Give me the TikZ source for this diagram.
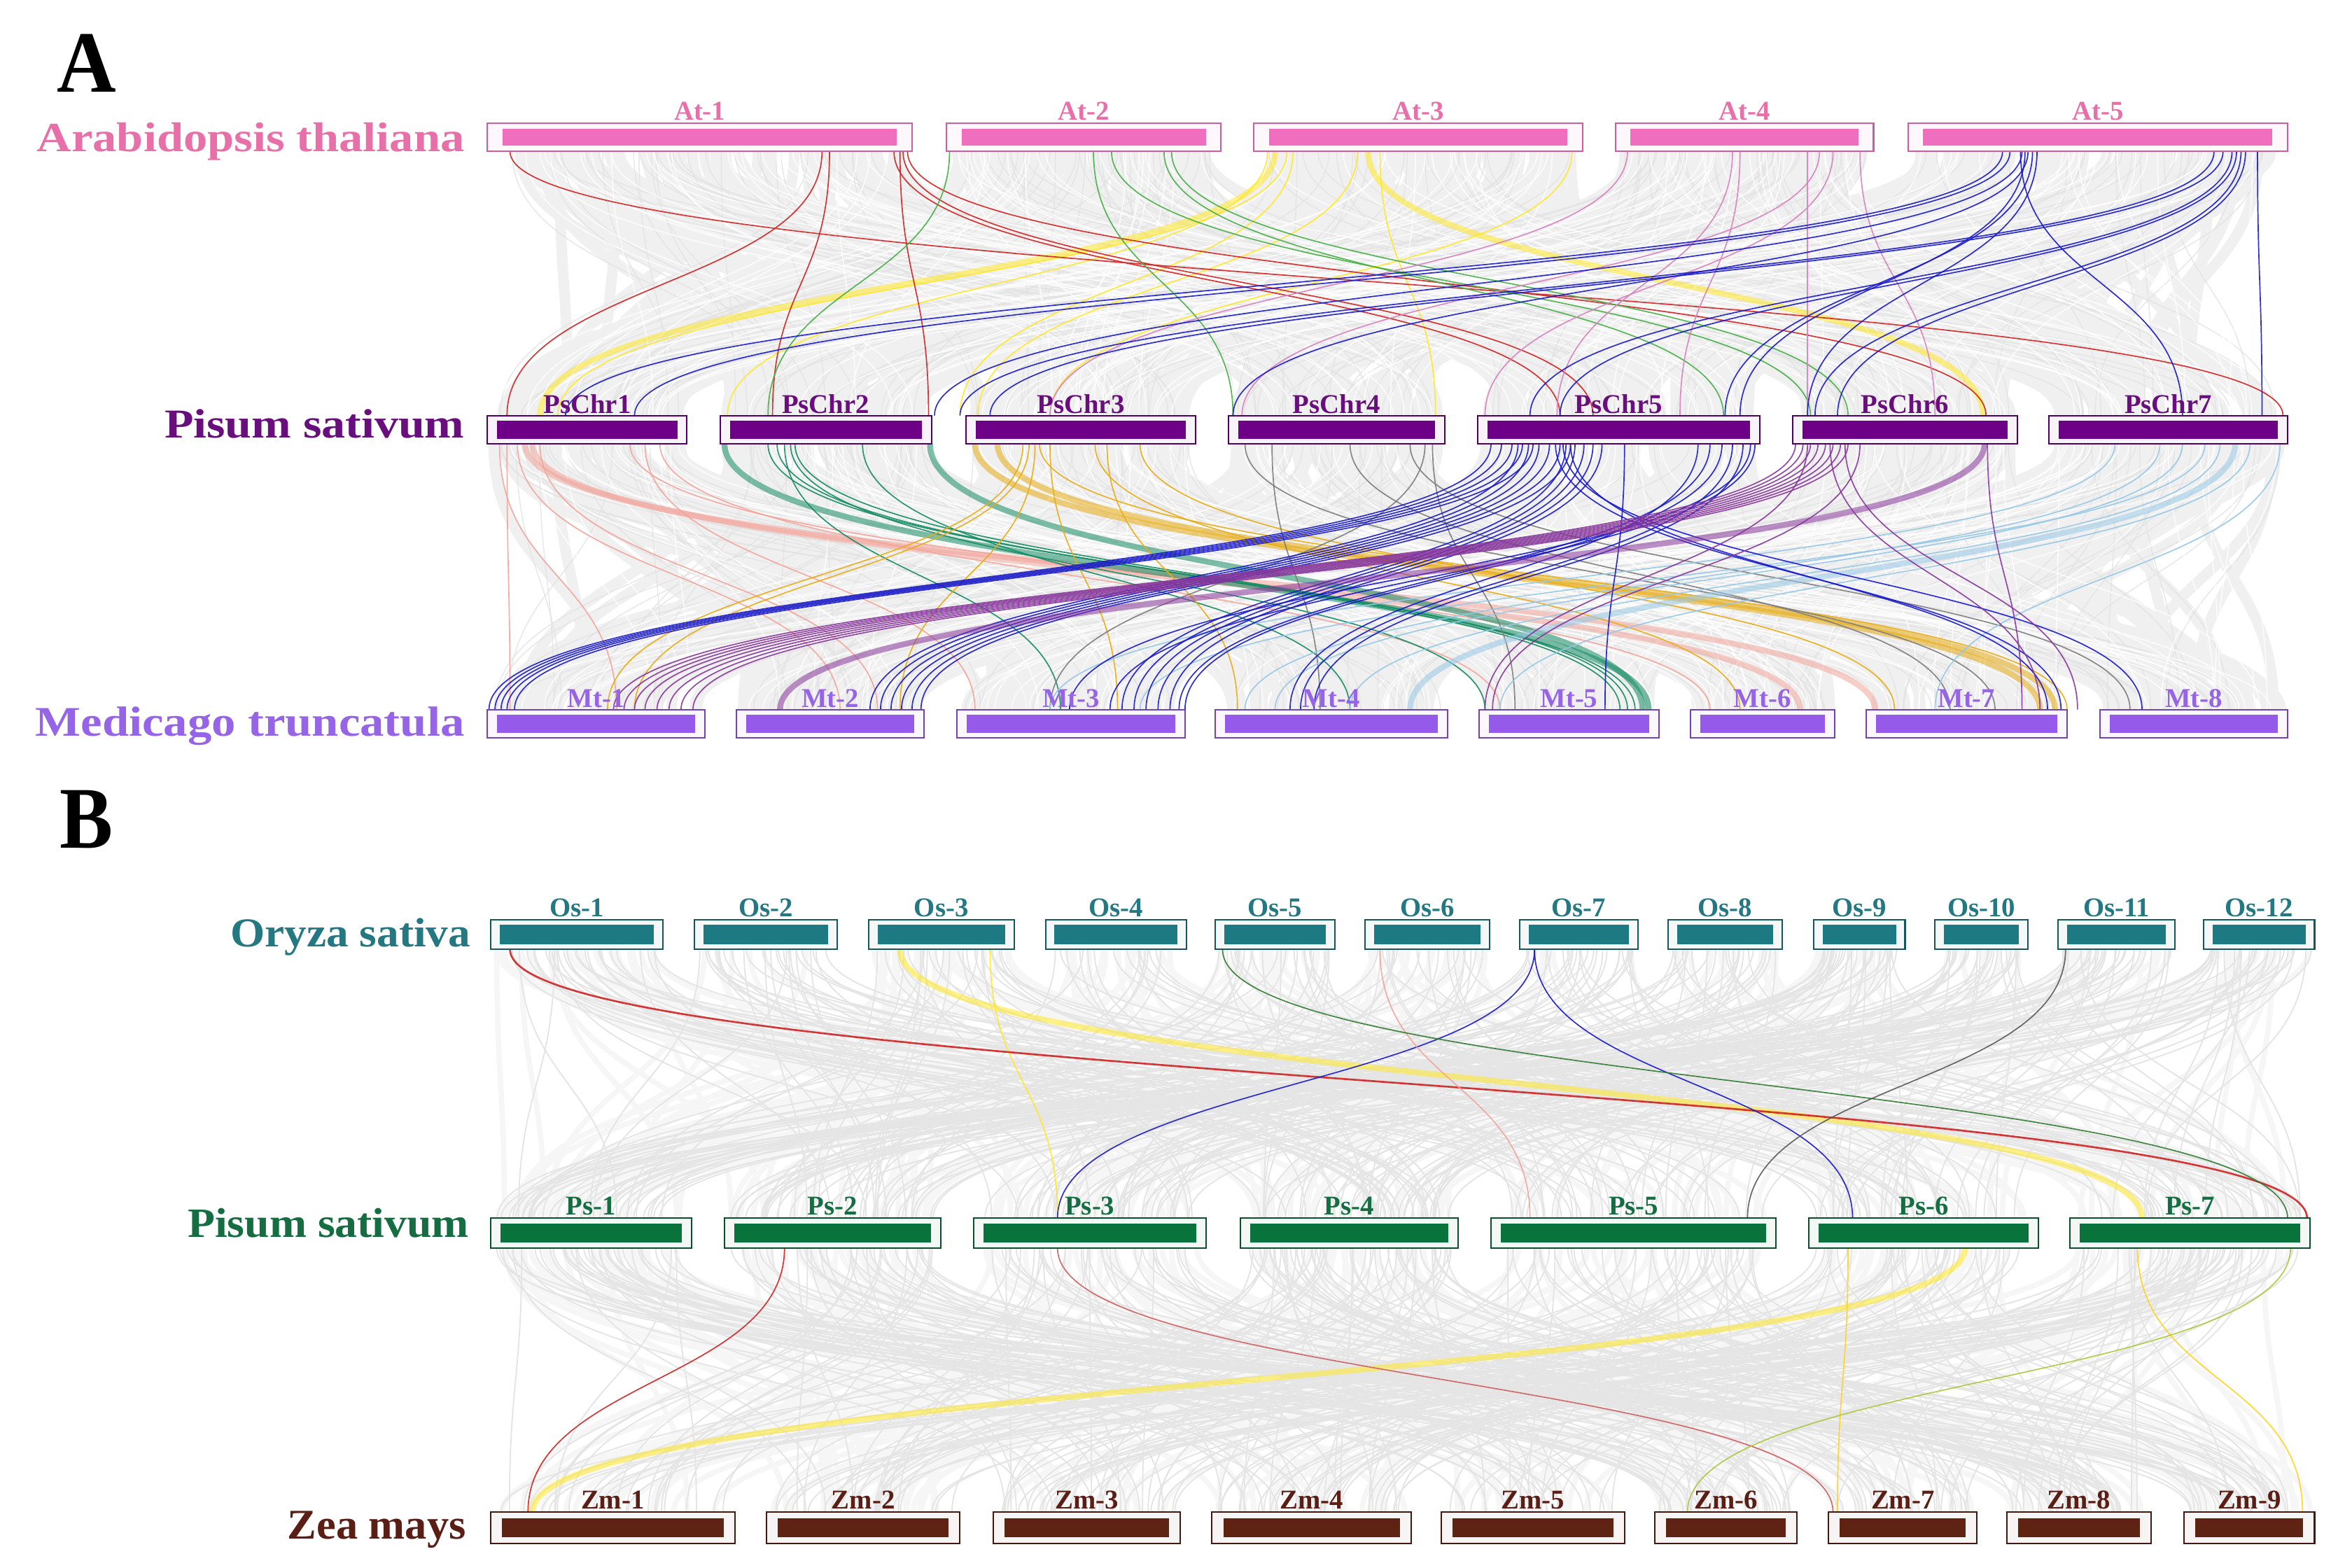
\documentclass[tikz,border=0pt]{standalone}
\usepackage{fontspec}
\usepackage{graphicx}
\setmainfont{Liberation Serif}
\usetikzlibrary{calc,fit}

\definecolor{atbar}{RGB}{240,110,190}
\definecolor{atlab}{RGB}{232,112,168}
\definecolor{psbar}{RGB}{110,0,135}
\definecolor{pslab}{RGB}{105,15,125}
\definecolor{mtbar}{RGB}{150,90,235}
\definecolor{mtlab}{RGB}{150,100,230}
\definecolor{osbar}{RGB}{30,122,130}
\definecolor{oslab}{RGB}{35,120,130}
\definecolor{pgbar}{RGB}{10,115,60}
\definecolor{pglab}{RGB}{20,110,65}
\definecolor{zmbar}{RGB}{95,35,20}
\definecolor{zmlab}{RGB}{90,30,20}
\definecolor{cred}{RGB}{205,35,35}
\definecolor{cgreen}{RGB}{70,175,70}
\definecolor{cyel}{RGB}{255,232,40}
\definecolor{cpink}{RGB}{215,130,190}
\definecolor{cblue}{RGB}{25,25,200}
\definecolor{csal}{RGB}{242,165,155}
\definecolor{cteal}{RGB}{20,140,100}
\definecolor{cgold}{RGB}{232,172,20}
\definecolor{cgray}{RGB}{125,125,125}
\definecolor{cpurp}{RGB}{135,55,155}
\definecolor{clblue}{RGB}{150,200,230}
\definecolor{cygreen}{RGB}{170,200,60}
\definecolor{cbrred}{RGB}{205,95,95}

\tikzset{
  hid/.style={inner sep=0pt, outer sep=0pt, rectangle},
  chl/.style={font=\fontsize{10.3}{11}\selectfont\bfseries, inner sep=0pt, anchor=base},
  lk/.style={line width=0.45pt, opacity=0.9},
  thk/.style={line width=2.2pt, opacity=0.55},
  bgwide/.style={line width=4pt, color=black!6},
  bgthin/.style={line width=0.4pt, color=black!11, opacity=0.8},
  bgwhite/.style={line width=0.5pt, color=white, opacity=0.7},
  bgB/.style={line width=0.5pt, color=black!10},
  bgBw/.style={line width=2pt, color=black!3.5},
}

\newcommand\links[3]{%
  \foreach \xa/\a/\xb/\b in {#3}
    \draw[#1] (\xa,0 |- \a.south) .. controls +(0,#2) and +(0,-#2) .. (\xb,0 |- \b.north);}

\newcommand\bglinks[7]{%
  \foreach \i in {1,...,#1}{%
    \pgfmathtruncatemacro\ka{random(1,#3)}%
    \pgfmathtruncatemacro\kb{random(1,#5)}%
    \pgfmathsetmacro\ta{0.03+0.94*rnd}%
    \pgfmathsetmacro\tb{0.03+0.94*rnd}%
    \draw[#6] ($(#2\ka.south west)!\ta!(#2\ka.south east)$) .. controls +(0,#7) and +(0,-#7) .. ($(#4\kb.north west)!\tb!(#4\kb.north east)$);
  }}

\begin{document}
\begin{tikzpicture}[x=0.02cm,y=-0.02cm]
\useasboundingbox (0,0) rectangle (1568,1045);
\fill[white] (0,0) rectangle (1568,1045);
\pgfmathsetseed{4711}

% ---------- chromosome nodes (placement) ----------
\foreach \n/\l/\r in {1/325/608,2/631/814,3/836/1055,4/1077/1249,5/1272/1525}
  \node[hid, fit={(\l,82)(\r,101)}] (at\n) {};
\foreach \n/\l/\r in {1/325/458,2/480/621,3/644/797,4/819/963,5/985/1173,6/1195/1345,7/1366/1525}
  \node[hid, fit={(\l,277)(\r,296)}] (ps\n) {};
\foreach \n/\l/\r in {1/325/470,2/491/616,3/638/790,4/810/965,5/986/1106,6/1127/1223,7/1244/1378,8/1400/1525}
  \node[hid, fit={(\l,473)(\r,492)}] (mt\n) {};
\foreach \n/\l/\r in {1/327/442,2/463/558,3/579/676,4/697/791,5/810/890,6/910/993,7/1013/1092,8/1112/1188,9/1209/1270,10/1290/1352,11/1372/1450,12/1469/1543}
  \node[hid, fit={(\l,613)(\r,633)}] (os\n) {};
\foreach \n/\l/\r in {1/327/461,2/483/627,3/649/804,4/827/972,5/994/1184,6/1206/1359,7/1380/1540}
  \node[hid, fit={(\l,812)(\r,832)}] (pg\n) {};
\foreach \n/\l/\r in {1/327/490,2/511/640,3/662/787,4/808/941,5/961/1083,6/1103/1198,7/1219/1318,8/1338/1434,9/1456/1543}
  \node[hid, fit={(\l,1008)(\r,1029)}] (zm\n) {};

% ---------- background synteny ----------
\bglinks{420}{at}{5}{ps}{7}{bgwide}{88}
\bglinks{170}{at}{5}{ps}{7}{bgthin}{88}
\bglinks{150}{at}{5}{ps}{7}{bgwhite}{88}
\bglinks{420}{ps}{7}{mt}{8}{bgwide}{88}
\bglinks{170}{ps}{7}{mt}{8}{bgthin}{88}
\bglinks{150}{ps}{7}{mt}{8}{bgwhite}{88}
\bglinks{180}{os}{12}{pg}{7}{bgBw}{90}
\bglinks{320}{os}{12}{pg}{7}{bgB}{90}
\bglinks{180}{pg}{7}{zm}{9}{bgBw}{88}
\bglinks{320}{pg}{7}{zm}{9}{bgB}{88}

% ---------- Panel A: At -> Ps ----------
\links{thk,cyel}{88}{850/at3/360/ps1, 912/at3/1322/ps6}
\links{lk,cyel}{88}{858/at3/372/ps1, 845/at3/485/ps2, 905/at3/652/ps3, 1048/at3/700/ps3, 920/at3/957/ps4, 862/at3/640/ps3}
\links{lk,cred}{88}{340/at1/1522/ps7, 548/at1/338/ps1, 553/at1/515/ps2, 600/at1/619/ps2, 596/at1/1040/ps5, 602/at1/1062/ps5, 605/at1/1324/ps6}
\links{lk,cgreen}{88}{633/at2/512/ps2, 729/at2/822/ps4, 741/at2/1207/ps6, 776/at2/1149/ps5, 781/at2/1232/ps6}
\links{lk,cpink}{88}{1085/at4/700/ps3, 1155/at4/1038/ps5, 1205/at4/1205/ps6, 1213/at4/828/ps4, 1222/at4/990/ps5, 1240/at4/1290/ps6, 1160/at4/1120/ps5}
\links{lk,cblue}{88}{1335/at5/377/ps1, 1340/at5/423/ps1, 1348/at5/623/ps2, 1352/at5/822/ps4, 1355/at5/1150/ps5, 1358/at5/1205/ps6, 1347/at5/1455/ps7, 1476/at5/640/ps3, 1482/at5/660/ps3, 1488/at5/1020/ps5, 1491/at5/1040/ps5, 1494/at5/1210/ps6, 1497/at5/1225/ps6, 1505/at5/1508/ps7, 1350/at5/1160/ps5}

% ---------- Panel A: Ps -> Mt ----------
\links{thk,csal}{88}{350/ps1/1250/mt7, 355/ps1/1200/mt6}
\links{lk,csal}{88}{333/ps1/411/mt1, 345/ps1/560/mt2, 360/ps1/585/mt2, 430/ps1/650/mt3, 440/ps1/1000/mt5, 338/ps1/340/mt1, 420/ps1/1140/mt6}
\links{thk,cteal}{88}{483/ps2/1099/mt5, 620/ps2/1095/mt5}
\links{lk,cteal}{88}{512/ps2/1090/mt5, 518/ps2/1080/mt5, 523/ps2/707/mt3, 527/ps2/990/mt5, 575/ps2/900/mt4, 530/ps2/1085/mt5}
\links{thk,cgold}{88}{650/ps3/1360/mt7, 665/ps3/1370/mt7}
\links{lk,cgold}{88}{682/ps3/405/mt1, 686/ps3/423/mt1, 690/ps3/600/mt2, 693/ps3/1378/mt7, 738/ps3/825/mt4, 760/ps3/1263/mt7, 700/ps3/745/mt3, 730/ps3/1160/mt6}
\links{lk,cgray}{88}{848/ps4/880/mt4, 940/ps4/1420/mt8, 955/ps4/1010/mt5, 830/ps4/1330/mt7, 950/ps4/700/mt3, 900/ps4/1300/mt7}
\links{thk,clblue}{88}{1490/ps7/940/mt4}
\links{lk,clblue}{88}{1455/ps7/850/mt4, 1470/ps7/760/mt3, 1480/ps7/900/mt4, 1500/ps7/1000/mt5, 1520/ps7/1290/mt7, 1410/ps7/700/mt3, 1440/ps7/830/mt4}
\links{lk,cblue}{88}{994/ps5/326/mt1, 1001/ps5/330/mt1, 1008/ps5/334/mt1, 1015/ps5/338/mt1, 1022/ps5/343/mt1,
  1012/ps5/580/mt2, 1019/ps5/587/mt2, 1026/ps5/594/mt2, 1033/ps5/601/mt2, 1040/ps5/608/mt2, 1047/ps5/614/mt2,
  1044/ps5/748/mt3, 1050/ps5/756/mt3, 1056/ps5/764/mt3, 1062/ps5/772/mt3, 1068/ps5/780/mt3,
  1140/ps5/786/mt3, 1148/ps5/790/mt3, 1155/ps5/867/mt4, 1162/ps5/876/mt4, 1167/ps5/713/mt3, 1170/ps5/740/mt3,
  1083/ps5/1070/mt5, 1037/ps5/1374/mt7, 1042/ps5/1428/mt8, 1047/ps5/1365/mt7, 1132/ps5/860/mt4}
\links{lk,cpurp}{88}{1197/ps6/409/mt1, 1202/ps6/416/mt1, 1207/ps6/423/mt1, 1212/ps6/430/mt1, 1217/ps6/438/mt1, 1222/ps6/446/mt1, 1227/ps6/454/mt1, 1232/ps6/462/mt1,
  1205/ps6/990/mt5, 1220/ps6/1360/mt7, 1230/ps6/1385/mt7, 1325/ps6/1348/mt7, 1240/ps6/995/mt5}
\links{thk,cpurp}{88}{1323/ps6/520/mt2}

% ---------- Panel B: Os -> Ps ----------
\links{thk,cyel}{90}{600/os3/1428/pg7}
\links{lk,cyel}{90}{660/os3/705/pg3}
\links{lk,cred,line width=0.7pt}{90}{340/os1/1538/pg7}
\links{lk,cblue}{90}{1023/os7/705/pg3, 1023/os7/1235/pg6}
\links{lk,csal}{90}{920/os6/1020/pg5}
\links{lk,cgreen!70!black}{90}{815/os5/1525/pg7}
\links{lk,black!65}{90}{1377/os11/1165/pg5}

% ---------- Panel B: Ps -> Zm ----------
\links{thk,cyel}{88}{1310/pg6/355/zm1}
\links{lk,cred}{88}{523/pg2/352/zm1}
\links{lk,cbrred}{88}{705/pg3/1222/zm7}
\links{lk,cyel!80!orange}{88}{1232/pg6/1225/zm7, 1425/pg7/1535/zm9}
\links{lk,cygreen}{88}{1527/pg7/1125/zm6}

% ---------- chromosome boxes ----------
\foreach \p/\c/\d/\N/\ix/\iy in {at/atbar/85/5/10/4, ps/psbar/70/7/6.5/3.5, mt/mtbar/75/8/6.5/3.5, os/osbar/70/12/6/3.5, pg/pgbar/70/7/6.5/3.5, zm/zmbar/70/9/7.5/4}{
  \foreach \n in {1,...,\N}{
    \draw[draw=\c!\d!black, fill=\c!5, line width=0.55pt] (\p\n.south west) rectangle (\p\n.north east);
    \fill[\c] ($(\p\n.north west)+(\ix,\iy)$) rectangle ($(\p\n.south east)+(-\ix,-\iy)$);
  }}

% ---------- chromosome labels ----------
\foreach \n in {1,...,5} \node[chl, text=atlab] (lat\n) at ($(at\n.north)+(0,-2)$) {At-\n};
\foreach \n in {1,...,7} \node[chl, text=pslab] (lps\n) at ($(ps\n.north)+(0,-1.5)$) {PsChr\n};
\foreach \n in {1,...,8} \node[chl, text=mtlab] (lmt\n) at ($(mt\n.north)+(0,-1.5)$) {Mt-\n};
\foreach \n in {1,...,12} \node[chl, text=oslab] (los\n) at ($(os\n.north)+(0,-2)$) {Os-\n};
\foreach \n in {1,...,7} \node[chl, text=pglab] (lpg\n) at ($(pg\n.north)+(0,-2)$) {Ps-\n};
\foreach \n in {1,...,9} \node[chl, text=zmlab] (lzm\n) at ($(zm\n.north)+(0,-2)$) {Zm-\n};

% ---------- species labels and panel letters ----------
\node[anchor=base east, inner sep=0pt, text=atlab] (spAt) at (310,101) {\resizebox{5.7cm}{0.385cm}{\bfseries Arabidopsis thaliana}};
\node[anchor=base east, inner sep=0pt, text=pslab] (spPs) at (310,292) {\resizebox{4.0cm}{0.38cm}{\bfseries Pisum sativum}};
\node[anchor=base east, inner sep=0pt, text=mtlab] (spMt) at (310,490.5) {\resizebox{5.72cm}{0.39cm}{\bfseries Medicago truncatula}};
\node[anchor=base east, inner sep=0pt, text=oslab] (spOs) at (314,631) {\resizebox{3.2cm}{0.38cm}{\bfseries Oryza sativa}};
\node[anchor=base east, inner sep=0pt, text=pglab] (spPg) at (313,825) {\resizebox{3.75cm}{0.386cm}{\bfseries Pisum sativum}};
\node[anchor=base east, inner sep=0pt, text=zmlab] (spZm) at (311,1026) {\resizebox{2.38cm}{0.37cm}{\bfseries Zea mays}};
\node[anchor=base west, inner sep=0pt] (pA) at (37.5,61.5) {\resizebox{0.79cm}{0.77cm}{\bfseries A}};
\node[anchor=base west, inner sep=0pt] (pB) at (39.5,565.4) {\resizebox{0.71cm}{0.768cm}{\bfseries B}};
\end{tikzpicture}
\end{document}
